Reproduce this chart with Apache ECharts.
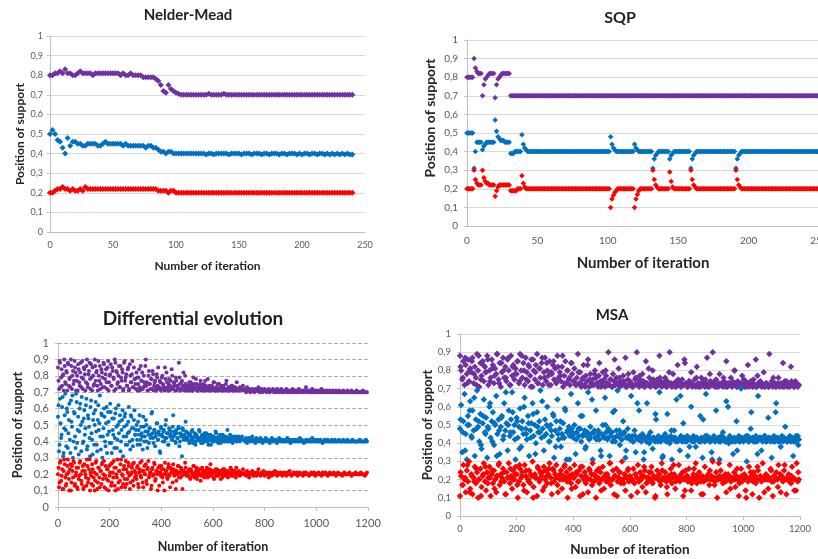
<!DOCTYPE html>
<html><head><meta charset="utf-8">
<script src="https://cdn.jsdelivr.net/npm/echarts@6/dist/echarts.min.js"></script>
<style>html,body{margin:0;padding:0;background:#fff}#c{width:818px;height:559px}</style>
</head><body><div id="c"></div>
<script>
// ---------- tick labels ----------
const yTickLabels = ['0','0,1','0,2','0,3','0,4','0,5','0,6','0,7','0,8','0,9','1'];
const titles = ['Nelder-Mead','SQP','Differential evolution','MSA'];
const xName = 'Number of iteration';
const yName = 'Position of support';

// ---------- Nelder-Mead ----------
const nmIter = [0,2,4,6,8,10,12,14,16,18,20,22,24,26,28,30,32,34,36,38,
40,42,44,46,48,50,52,54,56,58,60,62,64,66,68,70,72,74,76,78,
80,82,84,86,88,90,92,94,96,98,100,102,104,106,108,110,112,114,116,118,
120,122,124,126,128,130,132,134,136,138,140,142,144,146,148,150,152,154,156,158,
160,162,164,166,168,170,172,174,176,178,180,182,184,186,188,190,192,194,196,198,
200,202,204,206,208,210,212,214,216,218,220,222,224,226,228,230,232,234,236,238,
240];
const nmPurple = [.8,.8,.81,.81,.82,.81,.83,.81,.81,.8,
.8,.81,.82,.81,.81,.81,.81,.8,.81,.81,
.81,.81,.81,.81,.81,.81,.81,.81,.8,.81,
.8,.8,.81,.8,.8,.8,.8,.79,.79,.79,
.79,.79,.78,.77,.75,.72,.71,.75,.73,.72,
.71,.705,.7,.7,.7,.7,.7,.7,.7,.7,
.7,.7,.7,.705,.7,.7,.7,.7,.7,.705,
.7,.7,.7,.7,.7,.7,.7,.7,.7,.7,
.7,.7,.7,.7,.7,.7,.7,.7,.7,.7,
.7,.7,.7,.7,.7,.7,.7,.7,.7,.7,
.7,.7,.7,.7,.7,.7,.7,.7,.7,.7,
.7,.7,.7,.7,.7,.7,.7,.7,.7,.7,
.7];
const nmBlue = [.5,.52,.5,.47,.46,.43,.4,.48,.44,.46,
.46,.45,.45,.44,.44,.45,.45,.45,.45,.44,
.44,.45,.46,.45,.45,.45,.45,.45,.45,.44,
.45,.44,.44,.44,.44,.44,.44,.44,.43,.44,
.44,.43,.43,.42,.41,.41,.4,.41,.41,.4,
.4,.4,.4,.4,.4,.4,.4,.4,.4,.4,
.4,.4,.395,.4,.4,.395,.4,.4,.4,.4,
.4,.395,.4,.4,.4,.4,.395,.4,.4,.4,
.395,.4,.4,.4,.395,.4,.4,.395,.4,.4,
.4,.395,.4,.4,.395,.4,.4,.4,.395,.4,
.395,.4,.4,.395,.4,.4,.395,.4,.4,.395,
.4,.395,.4,.395,.4,.395,.4,.395,.4,.395,
.395];
const nmRed = [.2,.2,.21,.22,.22,.23,.22,.22,.21,.22,
.21,.21,.22,.21,.23,.22,.22,.22,.22,.22,
.22,.22,.22,.22,.22,.22,.22,.22,.22,.22,
.22,.22,.22,.22,.22,.22,.22,.22,.22,.22,
.22,.22,.22,.21,.21,.21,.21,.2,.21,.21,
.2,.2,.2,.2,.2,.2,.2,.2,.2,.2,
.2,.2,.2,.2,.2,.2,.2,.2,.2,.2,
.2,.2,.2,.2,.2,.2,.2,.2,.2,.2,
.2,.2,.2,.2,.2,.2,.2,.2,.2,.2,
.2,.2,.2,.2,.2,.2,.2,.2,.2,.2,
.2,.2,.2,.2,.2,.2,.2,.2,.2,.2,
.2,.2,.2,.2,.2,.2,.2,.2,.2,.2,
.2];

// ---------- SQP ----------
const sqpIter = [0,1,2,3,4,5,6,7,8,9,10,11,12,13,14,15,16,17,18,19,20,21,22,23,24,
25,26,27,28,29,30,31,32,33,34,35,36,37,38,39,40,41,42,43,44,45,46,47,48,49,
50,51,52,53,54,55,56,57,58,59,60,61,62,63,64,65,66,67,68,69,70,71,72,73,74,
75,76,77,78,79,80,81,82,83,84,85,86,87,88,89,90,91,92,93,94,95,96,97,98,99,
100,101,102,103,104,105,106,107,108,109,110,111,112,113,114,115,116,117,118,119,120,121,122,123,124,
125,126,127,128,129,130,131,132,133,134,135,136,137,138,139,140,141,142,143,144,145,146,147,148,149,
150,151,152,153,154,155,156,157,158,159,160,161,162,163,164,165,166,167,168,169,170,171,172,173,174,
175,176,177,178,179,180,181,182,183,184,185,186,187,188,189,190,191,192,193,194,195,196,197,198,199,
200,201,202,203,204,205,206,207,208,209,210,211,212,213,214,215,216,217,218,219,220,221,222,223,224,
225,226,227,228,229,230,231,232,233,234,235,236,237,238,239,240,241,242,243,244,245,246,247,248,249,
250];
const sqpPurple = [.8,.8,.8,.8,.8,.9,.85,.83,.82,.82,.82,.7,.76,.79,.8,.81,.82,.82,.82,.82,.69,.76,.79,.8,.81,.82,.82,.82,.82,.82,.82,
.7,.7,.7,.7,.7,.7,.7,.7,.7,.7, .7,.7,.7,.7,.7,.7,.7,.7,.7,.7,
.7,.7,.7,.7,.7,.7,.7,.7,.7,.7, .7,.7,.7,.7,.7,.7,.7,.7,.7,.7,
.7,.7,.7,.7,.7,.7,.7,.7,.7,.7, .7,.7,.7,.7,.7,.7,.7,.7,.7,.7,
.7,.7,.7,.7,.7,.7,.7,.7,.7,.7, .7,.7,.7,.7,.7,.7,.7,.7,.7,.7,
.7,.7,.7,.7,.7,.7,.7,.7,.7,.7, .7,.7,.7,.7,.7,.7,.7,.7,.7,.7,
.7,.7,.7,.7,.7,.7,.7,.7,.7,.7, .7,.7,.7,.7,.7,.7,.7,.7,.7,.7,
.7,.7,.7,.7,.7,.7,.7,.7,.7,.7, .7,.7,.7,.7,.7,.7,.7,.7,.7,.7,
.7,.7,.7,.7,.7,.7,.7,.7,.7,.7, .7,.7,.7,.7,.7,.7,.7,.7,.7,.7,
.7,.7,.7,.7,.7,.7,.7,.7,.7,.7, .7,.7,.7,.7,.7,.7,.7,.7,.7,.7,
.7,.7,.7,.7,.7,.7,.7,.7,.7,.7, .7,.7,.7,.7,.7,.7,.7,.7,.7,.7,
.7,.7,.7,.7,.7,.7,.7,.7,.7,.7, .7,.7,.7,.7,.7,.7,.7,.7,.7,.7];
const sqpBlue = [.5,.5,.5,.5,.5,.31,.4,.45,.45,.45,.45,.41,.43,.44,.45,.45,.45,.45,.45,.45,
.57,.51,.48,.47,.46,.46,.46,.45,.45,.45,.45,
.39,.39,.39,.4,.4,.4,.4,.4,.49,.44,.42,.41,
.4,.4,.4,.4,.4,.4,.4,.4,.4,.4, .4,.4,.4,.4,.4,.4,.4,.4,.4,.4,
.4,.4,.4,.4,.4,.4,.4,.4,.4,.4, .4,.4,.4,.4,.4,.4,.4,.4,.4,.4,
.4,.4,.4,.4,.4,.4,.4,.4,.4,.4, .4,.4,.4,.4,.4,.4,.4,.4,.4,
.48,.44,.42,.41,
.4,.4,.4,.4,.4,.4,.4,.4,.4,.4,.4,.4,.4,
.44,.42,.41,
.4,.4,.4,.4,.4,.4,.4,.4,.4,.4,
.31,.36,.38,.39,
.4,.4,.4,.4,.4,.4,.4,.4,
.36,.38,.39,
.4,.4,.4,.4,.4,.4,.4,.4,.4,.4,.4,.4,
.31,.36,.38,.39,
.4,.4,.4,.4,.4,.4,.4,.4,.4,.4, .4,.4,.4,.4,.4,.4,.4,.4,.4,.4, .4,.4,.4,.4,.4,.4,.4,.4,
.31,.36,.38,.39,
.4,.4,.4,.4,.4,.4,.4,.4,.4,.4, .4,.4,.4,.4,.4,.4,.4,.4,.4,.4, .4,.4,.4,.4,.4,.4,.4,.4,.4,.4,
.4,.4,.4,.4,.4,.4,.4,.4,.4,.4, .4,.4,.4,.4,.4,.4,.4,.4,.4,.4, .4,.4,.4,.4,.4,.4];
const sqpRed = [.2,.2,.2,.2,.2,.3,.25,.23,.22,.22,.22,.3,.26,.24,.23,.23,.22,.22,.22,.22,
.16,.19,.21,.22,.22,.22,.22,.22,.22,.22,.22,
.19,.19,.19,.19,.19,.2,.2,.2,.27,.23,.21,
.2,.2,.2,.2,.2,.2,.2,.2,.2,.2, .2,.2,.2,.2,.2,.2,.2,.2,.2,.2, .2,.2,.2,.2,.2,.2,.2,.2,.2,.2,
.2,.2,.2,.2,.2,.2,.2,.2,.2,.2, .2,.2,.2,.2,.2,.2,.2,.2,.2,.2, .2,.2,.2,.2,.2,.2,.2,.2,.2,.2,
.1,.145,.165,.18,.19,
.2,.2,.2,.2,.2,.2,.2,.2,.2,.2,.2,.2,
.1,.145,.17,.19,
.2,.2,.2,.2,.2,.2,.2,.2,.2,
.3,.25,.22,.21,
.2,.2,.2,.2,.2,.2,.2,.2,
.29,.24,.21,
.2,.2,.2,.2,.2,.2,.2,.2,.2,.2,.2,.2,
.3,.25,.22,.21,
.2,.2,.2,.2,.2,.2,.2,.2,.2,.2, .2,.2,.2,.2,.2,.2,.2,.2,.2,.2, .2,.2,.2,.2,.2,.2,.2,.2,
.3,.25,.22,.21,
.2,.2,.2,.2,.2,.2,.2,.2,.2,.2, .2,.2,.2,.2,.2,.2,.2,.2,.2,.2, .2,.2,.2,.2,.2,.2,.2,.2,.2,.2,
.2,.2,.2,.2,.2,.2,.2,.2,.2,.2, .2,.2,.2,.2,.2,.2,.2,.2,.2,.2, .2,.2,.2,.2,.2,.2];

// ---------- iterations for DE and MSA ----------
const longIter = [0,4,8,12,16,20,24,28,32,36,40,44,48,52,56,60,64,68,72,76,
80,84,88,92,96,100,104,108,112,116,120,124,128,132,136,140,144,148,152,156,
160,164,168,172,176,180,184,188,192,196,200,204,208,212,216,220,224,228,232,236,
240,244,248,252,256,260,264,268,272,276,280,284,288,292,296,300,304,308,312,316,
320,324,328,332,336,340,344,348,352,356,360,364,368,372,376,380,384,388,392,396,
400,404,408,412,416,420,424,428,432,436,440,444,448,452,456,460,464,468,472,476,
480,484,488,492,496,500,504,508,512,516,520,524,528,532,536,540,544,548,552,556,
560,564,568,572,576,580,584,588,592,596,600,604,608,612,616,620,624,628,632,636,
640,644,648,652,656,660,664,668,672,676,680,684,688,692,696,700,704,708,712,716,
720,724,728,732,736,740,744,748,752,756,760,764,768,772,776,780,784,788,792,796,
800,804,808,812,816,820,824,828,832,836,840,844,848,852,856,860,864,868,872,876,
880,884,888,892,896,900,904,908,912,916,920,924,928,932,936,940,944,948,952,956,
960,964,968,972,976,980,984,988,992,996,1000,1004,1008,1012,1016,1020,1024,1028,1032,1036,
1040,1044,1048,1052,1056,1060,1064,1068,1072,1076,1080,1084,1088,1092,1096,1100,1104,1108,1112,1116,
1120,1124,1128,1132,1136,1140,1144,1148,1152,1156,1160,1164,1168,1172,1176,1180,1184,1188,1192,1196];
// extra DE population members for the early, widely spread generations
const deIter2 = [2,6,10,14,18,22,26,30,34,38,42,46,50,54,58,62,66,70,74,78,82,86,90,94,98,
102,106,110,114,118,122,126,130,134,138,142,146,150,154,158,162,166,170,174,178,182,186,190,194,198,
202,206,210,214,218,222,226,230,234,238,242,246,250,254,258,262,266,270,274,278,282,286,290,294,298,
302,306,310,314,318,322,326,330,334,338,342,346,350,354,358,362,366,370,374,378,382,386,390,394,398,
402,406,410,414,418,422,426,430,434,438,442,446,450,454,458,462,466,470,474,478,482,486,490,494,498,
502,506,510,514,518,522,526,530,534,538,542,546,550,554,558,562,566,570,574,578,582,586,590,594,598,
602,606,610,614,618,622,626,630,634,638,642,646,650,654,658,662,666,670,674,678,682,686,690,694,698];
// extra MSA points
const msaIter2 = [2,10,18,26,34,42,50,58,66,74,82,90,98,106,114,122,130,138,146,154,162,170,178,186,194,
202,210,218,226,234,242,250,258,266,274,282,290,298,306,314,322,330,338,346,354,362,370,378,386,394,
402,410,418,426,434,442,450,458,466,474,482,490,498,506,514,522,530,538,546,554,562,570,578,586,594,
602,610,618,626,634,642,650,658,666,674,682,690,698,706,714,722,730,738,746,754,762,770,778,786,794,
802,810,818,826,834,842,850,858,866,874,882,890,898,906,914,922,930,938,946,954,962,970,978,986,994,
1002,1010,1018,1026,1034,1042,1050,1058,1066,1074,1082,1090,1098,1106,1114,1122,1130,1138,1146,1154,1162,1170,1178,1186,1194];

// ---------- Differential evolution ----------
const dePurple = [.85,.72,.88,.79,.74,.81,.9,.76,.83,.71,
.87,.78,.73,.86,.8,.75,.89,.82,.77,.71,
.84,.74,.88,.79,.72,.85,.81,.76,.9,.73,
.83,.78,.87,.71,.8,.75,.86,.82,.74,.89,
.77,.72,.84,.79,.88,.73,.81,.76,.85,.71,
.8,.87,.74,.83,.78,.9,.72,.82,.76,.86,
.73,.79,.84,.71,.88,.77,.81,.74,.85,.72,
.8,.76,.89,.73,.78,
.75,.82,.71,.79,.73,.86,.77,.72,.8,.74,
.9,.76,.71,.83,.75,.78,.72,.81,.74,.77,
.71,.79,.85,.73,.76,.72,.8,.74,.71,.78,
.82,.73,.75,.71,.77,.84,.72,.76,.74,.79,
.71,.73,.88,.75,.72,.77,.74,.71,.8,.73,
.73,.71,.76,.72,.74,.71,.79,.73,.72,.75,
.71,.74,.72,.77,.73,.71,.75,.72,.74,.71,
.78,.73,.72,.71,.74,.72,.76,.71,.73,.72,
.71,.75,.72,.73,.71,.74,.72,.71,.77,.72,
.73,.71,.72,.74,.71,.73,.72,.71,.76,.72,
.71,.73,.72,.71,.74,
.72,.71,.7,.73,.71,.72,.7,.71,.72,.71,
.7,.72,.71,.71,.73,.7,.71,.72,.7,.71,
.72,.71,.7,.71,.72,.7,.71,.71,.72,.7,
.71,.7,.72,.71,.7,.71,.72,.7,.71,.7,
.71,.72,.7,.71,.7,.71,.7,.72,.71,.7,
.71,.7,.71,.72,.7,.71,.7,.71,.7,.71,
.73,.7,.71,.7,.71,.7,.72,.7,.71,.7,
.71,.7,.7,.71,.7,.72,.7,.71,.7,.7,
.71,.7,.7,.71,.7,.7,.71,.7,.7,.71,
.7,.7,.71,.7,.7,.7,.71,.7,.7,.7,
.71,.7,.7,.7,.71,.7,.7,.7,.7,.71,
.7,.7,.7,.7,.7,.71,.7,.7,.7,.7];
const deBlue = [.55,.34,.66,.42,.61,.31,.48,.69,.37,.58,
.45,.63,.33,.52,.68,.4,.57,.36,.64,.47,
.32,.6,.5,.67,.39,.54,.44,.62,.35,.56,
.49,.31,.65,.41,.53,.38,.59,.46,.34,.62,
.51,.43,.57,.3,.48,.55,.37,.61,.44,.52,
.39,.58,.33,.47,.54,.42,.6,.36,.5,.45,
.56,.4,.53,.31,.49,.57,.43,.38,.52,.46,
.35,.55,.41,.48,.59,
.44,.5,.38,.47,.56,.41,.45,.35,.49,.43,
.53,.4,.46,.39,.48,.44,.58,.42,.47,.37,
.45,.51,.41,.44,.33,.48,.43,.46,.4,.5,
.42,.45,.38,.47,.44,.41,.49,.43,.46,.39,
.45,.42,.48,.4,.44,.31,.47,.43,.41,.46,
.42,.45,.39,.44,.41,.47,.4,.43,.38,.44,
.42,.41,.46,.4,.43,.39,.42,.45,.41,.43,
.4,.44,.42,.38,.41,.43,.4,.42,.45,.41,
.39,.42,.44,.4,.41,.43,.42,.4,.41,.47,
.42,.4,.43,.41,.39,.42,.41,.43,.4,.42,
.41,.4,.42,.43,.41,
.41,.4,.42,.39,.41,.42,.4,.41,.43,.4,
.41,.39,.42,.4,.41,.4,.42,.41,.39,.4,
.41,.42,.4,.41,.4,.39,.41,.42,.4,.41,
.4,.41,.39,.4,.42,.41,.4,.41,.4,.4,
.41,.4,.42,.4,.41,.39,.4,.41,.4,.41,
.4,.41,.4,.4,.42,.4,.41,.4,.39,.4,
.41,.4,.4,.41,.4,.4,.42,.4,.41,.4,
.4,.41,.4,.4,.41,.4,.39,.4,.41,.4,
.4,.41,.4,.4,.4,.41,.4,.4,.41,.4,
.4,.4,.41,.4,.4,.4,.41,.4,.4,.4,
.41,.4,.4,.4,.4,.41,.4,.4,.4,.4,
.4,.4,.41,.4,.4,.4,.4,.4,.41,.4];
const deRed = [.2,.12,.27,.16,.23,.11,.29,.18,.14,.25,
.21,.1,.26,.15,.22,.28,.13,.19,.24,.11,
.17,.27,.2,.14,.25,.12,.22,.18,.29,.15,
.23,.1,.19,.26,.13,.21,.16,.28,.11,.24,
.18,.22,.14,.27,.2,.12,.25,.17,.23,.1,
.19,.26,.15,.21,.28,.13,.24,.18,.11,.22,
.16,.29,.2,.14,.25,.12,.23,.17,.27,.19,
.15,.21,.26,.13,.22,
.21,.17,.25,.12,.23,.19,.28,.15,.22,.2,
.26,.14,.24,.18,.21,.11,.23,.19,.27,.16,
.22,.2,.24,.13,.21,.25,.18,.23,.1,.2,
.22,.17,.26,.19,.24,.21,.15,.23,.2,.11,
.22,.25,.18,.21,.24,.19,.22,.2,.27,.21,
.21,.19,.23,.17,.22,.2,.25,.18,.21,.24,
.19,.22,.2,.16,.23,.21,.19,.22,.2,.24,
.18,.21,.23,.19,.2,.22,.17,.21,.2,.23,
.19,.21,.22,.2,.18,.21,.23,.2,.19,.22,
.21,.2,.24,.19,.21,.2,.22,.18,.21,.2,
.22,.19,.21,.2,.23,
.2,.21,.19,.22,.2,.18,.21,.2,.22,.19,
.21,.2,.19,.21,.23,.2,.19,.21,.2,.22,
.19,.2,.21,.2,.18,.21,.2,.19,.21,.2,
.22,.2,.19,.21,.2,.2,.21,.19,.2,.21,
.2,.19,.21,.2,.22,.2,.19,.2,.21,.2,
.2,.21,.19,.2,.21,.2,.2,.19,.21,.2,
.21,.2,.2,.19,.2,.21,.2,.2,.21,.19,
.2,.2,.21,.2,.2,.19,.21,.2,.2,.21,
.2,.19,.2,.21,.2,.2,.2,.21,.2,.19,
.2,.21,.2,.2,.2,.19,.2,.21,.2,.2,
.2,.2,.21,.2,.19,.2,.2,.2,.21,.2,
.2,.2,.2,.21,.2,.2,.2,.19,.2,.21];
const dePurple2 = [.77,.89,.73,.84,.8,.71,.86,.75,.82,.88,
.74,.79,.9,.72,.83,.77,.85,.71,.8,.87,
.76,.82,.73,.89,.78,.84,.71,.86,.75,.81,
.88,.72,.79,.85,.74,.9,.77,.83,.71,.8,
.86,.75,.82,.73,.87,.78,.84,.72,.89,.76,
.81,.74,.85,.79,.71,.88,.83,.75,.8,.73,
.86,.77,.82,.72,.89,.79,.74,.84,.71,.87,
.76,.81,.73,.85,.78,
.72,.79,.75,.84,.71,.77,.82,.73,.76,.86,
.74,.71,.8,.75,.72,.78,.83,.71,.76,.73,
.81,.74,.72,.77,.71,.79,.75,.73,.85,.72,
.76,.71,.78,.74,.72,.8,.73,.75,.71,.77,
.74,.72,.79,.71,.76,.73,.82,.72,.75,.71,
.72,.74,.71,.76,.73,.71,.75,.72,.78,.71,
.73,.72,.75,.71,.74,.72,.71,.77,.73,.72,
.71,.74,.72,.73,.71,.76,.72,.71,.73,.75,
.71,.72,.74,.71,.73,.72,.71,.75,.72,.71,
.73,.71,.72,.74,.71,.72,.73,.71,.72,.71];
const deBlue2 = [.62,.38,.51,.44,.67,.33,.56,.47,.6,.36,
.53,.41,.65,.49,.3,.58,.43,.69,.39,.55,
.46,.63,.34,.52,.4,.59,.48,.66,.37,.54,
.42,.61,.45,.32,.57,.5,.64,.38,.53,.47,
.68,.35,.56,.43,.6,.4,.51,.33,.58,.46,
.63,.39,.54,.44,.36,.57,.49,.41,.62,.52,
.34,.47,.59,.43,.55,.38,.5,.45,.61,.4,
.56,.48,.37,.53,.44,
.47,.41,.52,.44,.38,.49,.43,.55,.4,.46,
.5,.36,.44,.48,.42,.57,.45,.39,.47,.43,
.51,.41,.46,.34,.49,.44,.4,.47,.42,.53,
.45,.38,.48,.43,.46,.41,.56,.44,.4,.47,
.42,.49,.37,.45,.43,.48,.41,.44,.52,.42,
.41,.44,.4,.43,.46,.39,.42,.45,.4,.43,
.41,.47,.42,.39,.44,.41,.43,.4,.45,.42,
.38,.41,.44,.42,.4,.43,.41,.46,.42,.4,
.43,.41,.39,.42,.44,.4,.41,.43,.42,.4,
.41,.44,.42,.4,.43,.41,.42,.4,.41,.43];
const deRed2 = [.24,.15,.28,.19,.11,.22,.26,.13,.2,.29,
.17,.23,.1,.25,.18,.27,.14,.21,.12,.24,
.19,.28,.16,.22,.11,.26,.2,.13,.25,.17,
.29,.21,.14,.23,.18,.1,.27,.2,.15,.24,
.12,.22,.26,.17,.28,.19,.11,.23,.16,.25,
.21,.13,.27,.18,.24,.1,.2,.29,.15,.22,
.26,.12,.19,.23,.17,.28,.14,.21,.25,.11,
.2,.24,.16,.27,.18,
.19,.24,.14,.21,.27,.18,.22,.12,.25,.2,
.16,.23,.28,.19,.21,.13,.24,.2,.26,.17,
.22,.1,.21,.25,.19,.23,.15,.2,.27,.22,
.18,.24,.2,.12,.23,.21,.26,.19,.22,.16,
.2,.25,.21,.18,.23,.11,.22,.2,.24,.19,
.2,.22,.18,.23,.21,.19,.25,.2,.22,.17,
.21,.23,.2,.19,.24,.21,.18,.22,.2,.23,
.19,.21,.26,.2,.22,.18,.21,.23,.19,.2,
.22,.21,.17,.2,.23,.19,.21,.22,.2,.18,
.21,.2,.23,.19,.22,.2,.21,.24,.2,.21];

// ---------- MSA ----------
const msaPurple = [.88,.8,.75,.85,.72,.83,.78,.86,.74,.81,
.79,.87,.73,.82,.76,.89,.8,.71,.84,.77,
.85,.74,.82,.79,.88,.72,.8,.76,.86,.83,
.73,.81,.78,.89,.75,.84,.71,.79,.87,.76,
.82,.74,.86,.8,.72,.88,.77,.83,.75,.81,
.78,.85,.73,.89,.8,.76,.84,.72,.87,.79,
.74,.82,.77,.86,.71,.8,.75,.83,.89,.73,
.81,.76,.84,.72,.79,.87,.74,.8,.77,.85,
.72,.78,.83,.75,.81,.73,.88,.76,.79,.74,
.82,.71,.77,.85,.73,.8,.75,.72,.84,.78,
.74,.81,.72,.76,.89,.73,.79,.71,.75,.83,
.72,.77,.74,.86,.71,.78,.73,.75,.72,.8,
.76,.73,.71,.84,.74,.72,.79,.75,.71,.77,
.73,.9,.72,.75,.71,.78,.74,.72,.76,.73,
.81,.71,.74,.72,.77,.73,.87,.71,.75,.72,
.74,.73,.71,.79,.72,.76,.9,.73,.71,.75,
.72,.78,.74,.71,.85,.73,.72,.76,.71,.74,
.8,.72,.73,.71,.75,.72,.88,.74,.71,.73,
.72,.76,.71,.74,.73,.9,.72,.71,.78,.73,
.71,.74,.83,.72,.73,.71,.75,.72,.86,.73,
.72,.71,.74,.73,.79,.71,.72,.75,.71,.82,
.73,.72,.71,.76,.72,.74,.71,.73,.87,.72,
.71,.74,.72,.9,.73,.71,.75,.72,.71,.78,
.72,.73,.71,.74,.72,.85,.71,.73,.72,.76,
.71,.72,.8,.73,.71,.74,.72,.71,.73,.77,
.72,.71,.74,.72,.83,.71,.73,.72,.71,.75,
.72,.86,.71,.73,.72,.74,.71,.72,.79,.71,
.73,.72,.71,.89,.72,.74,.71,.72,.73,.71,
.72,.76,.71,.73,.72,.84,.71,.72,.74,.71,
.72,.71,.82,.73,.72,.71,.74,.72,.71,.72];
const msaBlue = [.48,.61,.35,.52,.67,.45,.31,.55,.5,.63,
.44,.58,.47,.33,.53,.69,.49,.41,.56,.37,
.51,.64,.46,.54,.32,.48,.6,.43,.52,.57,
.39,.5,.66,.45,.53,.34,.49,.55,.42,.62,
.47,.51,.36,.58,.44,.53,.68,.46,.5,.31,
.54,.43,.49,.59,.38,.52,.45,.65,.48,.42,
.55,.33,.47,.51,.62,.44,.5,.4,.57,.46,
.52,.69,.43,.48,.36,.53,.45,.6,.49,.41,
.5,.44,.56,.32,.47,.52,.64,.42,.48,.38,
.45,.51,.43,.58,.31,.47,.49,.44,.67,.46,
.43,.5,.34,.46,.62,.44,.48,.41,.55,.45,
.47,.38,.44,.68,.42,.49,.45,.31,.46,.43,
.58,.44,.47,.42,.36,.45,.5,.43,.65,.46,
.42,.48,.33,.44,.46,.57,.43,.41,.47,.69,
.44,.39,.45,.42,.52,.46,.32,.43,.48,.44,
.42,.66,.44,.41,.47,.35,.43,.42,.58,.44,
.41,.45,.31,.43,.42,.62,.44,.4,.46,.42,
.37,.43,.41,.53,.42,.44,.68,.41,.43,.33,
.42,.45,.41,.56,.43,.4,.44,.31,.42,.47,
.43,.64,.41,.42,.36,.44,.41,.51,.43,.42,
.41,.33,.43,.42,.6,.41,.44,.42,.38,.43,
.42,.41,.55,.43,.32,.42,.41,.67,.44,.42,
.43,.41,.35,.42,.44,.41,.58,.42,.43,.31,
.41,.42,.46,.43,.41,.63,.42,.4,.44,.41,
.42,.34,.43,.41,.52,.42,.44,.41,.7,.42,
.41,.43,.42,.3,.44,.41,.42,.57,.43,.41,
.42,.44,.41,.66,.42,.43,.36,.41,.42,.44,
.41,.42,.54,.43,.41,.32,.42,.44,.41,.62,
.43,.41,.42,.38,.44,.41,.43,.49,.42,.41,
.42,.44,.41,.43,.33,.42,.41,.43,.44,.42];
const msaRed = [.11,.22,.17,.28,.2,.13,.25,.19,.3,.15,
.23,.12,.21,.27,.18,.24,.1,.2,.26,.16,
.22,.29,.19,.14,.24,.21,.27,.11,.23,.18,
.25,.2,.13,.22,.28,.17,.23,.21,.26,.19,
.12,.24,.21,.29,.18,.22,.15,.25,.2,.27,
.23,.1,.19,.26,.21,.24,.17,.28,.22,.13,
.2,.25,.18,.22,.3,.16,.23,.21,.11,.26,
.19,.24,.22,.14,.27,.2,.25,.18,.23,.29,
.21,.12,.26,.19,.23,.28,.17,.22,.2,.25,
.15,.22,.27,.21,.24,.1,.2,.26,.18,.23,
.21,.28,.16,.23,.19,.25,.11,.22,.27,.2,
.24,.18,.21,.13,.26,.2,.23,.29,.19,.22,
.1,.25,.21,.18,.24,.2,.27,.15,.22,.19,
.23,.21,.29,.17,.2,.25,.12,.22,.26,.19,
.21,.24,.18,.3,.2,.23,.14,.21,.25,.19,
.22,.11,.2,.26,.18,.23,.21,.28,.19,.24,
.2,.16,.22,.25,.13,.21,.19,.24,.2,.27,
.18,.22,.1,.21,.25,.2,.23,.17,.29,.21,
.2,.24,.19,.12,.22,.2,.26,.18,.21,.23,
.15,.21,.2,.28,.19,.23,.21,.11,.2,.25,
.22,.19,.26,.2,.14,.21,.23,.2,.29,.18,
.21,.24,.2,.12,.22,.19,.27,.21,.2,.23,
.17,.2,.22,.3,.21,.19,.24,.1,.2,.22,
.25,.2,.18,.21,.23,.13,.2,.22,.28,.19,
.21,.2,.24,.16,.22,.2,.11,.21,.26,.19,
.2,.23,.14,.21,.19,.27,.2,.22,.12,.24,
.21,.18,.2,.25,.1,.22,.19,.29,.21,.2,
.23,.2,.15,.21,.26,.19,.11,.22,.2,.24,
.2,.28,.21,.13,.22,.19,.25,.2,.12,.21,
.23,.2,.18,.27,.21,.14,.2,.29,.19,.2];
const msaPurple2 = [.82,.76,.87,.73,.8,.85,.78,.72,.88,.75,
.83,.79,.86,.74,.81,.77,.89,.73,.84,.8,
.76,.87,.72,.82,.78,.85,.74,.88,.8,.75,
.83,.71,.86,.79,.73,.81,.87,.76,.84,.72,
.79,.85,.74,.82,.77,.88,.73,.8,.76,.84,
.74,.72,.79,.73,.76,.71,.83,.75,.72,.78,
.73,.77,.71,.74,.8,.72,.75,.71,.86,.73,
.76,.72,.74,.71,.78,
.73,.71,.75,.72,.77,.74,.71,.73,.81,.72,
.75,.71,.73,.76,.72,.74,.71,.79,.73,.72,
.71,.75,.73,.72,.84,.71,.74,.73,.72,.76,
.71,.73,.72,.75,.71,.78,.72,.74,.71,.73,
.72,.76,.71,.73,.72,.74,.8,.71,.73,.72,
.75,.71,.72,.74,.73,.71,.77,.72,.73,.71,
.73,.71,.72,.76,.71,.73,.72,.71,.74,.72,
.72,.74,.71,.73,.72];
const msaBlue2 = [.53,.46,.36,.5,.58,.43,.65,.48,.52,.39,
.55,.45,.49,.62,.41,.51,.33,.47,.54,.44,
.68,.5,.46,.57,.42,.52,.37,.48,.6,.45,
.51,.43,.56,.34,.49,.46,.63,.44,.5,.41,
.47,.55,.38,.45,.52,.43,.59,.46,.31,.48,
.45,.42,.48,.55,.44,.37,.46,.43,.64,.47,
.42,.45,.33,.44,.5,.43,.46,.41,.58,.44,
.47,.42,.45,.36,.43,
.42,.41,.44,.62,.42,.43,.35,.41,.44,.42,
.43,.56,.41,.42,.32,.44,.42,.41,.47,.43,
.41,.42,.66,.43,.41,.44,.38,.42,.41,.43,
.42,.41,.53,.44,.42,.41,.31,.43,.42,.41,
.44,.42,.41,.6,.43,.41,.42,.36,.41,.43,
.42,.44,.41,.48,.42,.41,.34,.43,.42,.44,
.41,.43,.42,.41,.57,.42,.41,.43,.42,.41,
.43,.42,.41,.44,.39];
const msaRed2 = [.24,.17,.21,.28,.13,.22,.19,.26,.2,.11,
.23,.27,.18,.21,.25,.15,.22,.29,.19,.24,
.12,.21,.26,.2,.23,.17,.28,.22,.14,.25,
.19,.23,.1,.21,.27,.2,.24,.16,.22,.26,
.18,.25,.21,.13,.23,.2,.28,.19,.22,.15,
.21,.24,.19,.27,.12,.22,.2,.25,.17,.23,
.2,.26,.14,.21,.23,.19,.29,.2,.22,.11,
.24,.2,.18,.22,.26,
.21,.19,.23,.13,.2,.22,.27,.18,.21,.24,
.2,.11,.22,.19,.25,.21,.16,.2,.23,.28,
.19,.21,.2,.24,.14,.22,.2,.18,.26,.21,
.23,.19,.12,.2,.22,.25,.2,.17,.21,.29,
.2,.22,.19,.23,.15,.21,.2,.26,.18,.22,
.21,.1,.2,.24,.19,.22,.27,.2,.21,.13,
.22,.2,.25,.19,.21,.16,.23,.2,.28,.21,
.19,.22,.2,.14,.24];

// ---------- styling ----------
const PURPLE = '#7030A0', BLUE = '#0070C0', RED = '#FF0000';
const FONT = 'Lato, "Open Sans", sans-serif';

function pairs(xs, ys) {
  const out = [];
  const n = Math.min(xs.length, ys.length);
  for (let i = 0; i < n; i++) out.push([xs[i], ys[i]]);
  return out;
}

const panels = [
  { grid:{left:50,top:36,width:315,height:196}, xMax:250, xInt:50, lab:9, labMx:9, labMy:7,
    split:'solid', xTick:false, xNameGap:28, xNameSize:12, yNameGap:23, yNameSize:12, yNameShow:true,
    symbol:'diamond', size:6,
    layers:[[nmIter,[nmPurple,nmBlue,nmRed]]],
    title:{x:188,y:15,size:15} },
  { grid:{left:467,top:40,width:352,height:186}, xMax:250, xInt:50, lab:10, labMx:10, labMy:9,
    split:'solid', xTick:false, xNameGap:30, xNameSize:15, yNameGap:0, yNameSize:14, yNameShow:false,
    symbol:'diamond', size:5.5,
    layers:[[sqpIter,[sqpPurple,sqpBlue,sqpRed]]],
    title:{x:620,y:18,size:16} },
  { grid:{left:58,top:343,width:310,height:164}, xMax:1200, xInt:200, lab:11, labMx:11, labMy:9,
    split:'dashed', xTick:true, xNameGap:33, xNameSize:12.5, yNameGap:34, yNameSize:12.5, yNameShow:true,
    symbol:'circle', size:4,
    layers:[[longIter,[dePurple,deBlue,deRed]],[deIter2,[dePurple2,deBlue2,deRed2]]],
    title:{x:193,y:319,size:19} },
  { grid:{left:460,top:334,width:340,height:182}, xMax:1200, xInt:200, lab:9.5, labMx:8, labMy:9,
    split:'solid', xTick:true, xNameGap:27, xNameSize:13.5, yNameGap:25, yNameSize:13, yNameShow:true,
    symbol:'diamond', size:6.5,
    layers:[[longIter,[msaPurple,msaBlue,msaRed]],[msaIter2,[msaPurple2,msaBlue2,msaRed2]]],
    title:{x:612,y:315,size:15} }
];

const grid = [], xAxis = [], yAxis = [], series = [], graphic = [];
const colors = [PURPLE, BLUE, RED];
panels.forEach((p, k) => {
  grid.push(Object.assign({containLabel:false, outerBoundsMode:'none'}, p.grid));
  xAxis.push({
    type:'value', gridIndex:k, min:0, max:p.xMax, interval:p.xInt,
    name:xName, nameLocation:'middle', nameGap:p.xNameGap,
    nameTextStyle:{fontFamily:FONT, fontWeight:'bold', fontSize:p.xNameSize, color:'#262626'},
    axisLine:{show:true, lineStyle:{color:'#bfbfbf', width:1}},
    axisTick:{show:p.xTick, length:4, inside:false, lineStyle:{color:'#bfbfbf'}},
    axisLabel:{fontFamily:FONT, fontSize:p.lab, color:'#595959', margin:p.labMx, showMaxLabel:true,
      formatter:(v) => String(v)},
    splitLine:{show:false}
  });
  yAxis.push({
    type:'value', gridIndex:k, min:0, max:1, interval:0.1,
    name:p.yNameShow ? yName : '', nameLocation:'middle', nameGap:p.yNameGap,
    nameTextStyle:{fontFamily:FONT, fontWeight:'bold', fontSize:p.yNameSize, color:'#262626'},
    axisLine:{show:true, lineStyle:{color:'#bfbfbf', width:1}},
    axisTick:{show:true, length:3, lineStyle:{color:'#bfbfbf'}},
    axisLabel:{fontFamily:FONT, fontSize:p.lab, color:'#595959', margin:p.labMy,
      formatter:(v) => yTickLabels[Math.round(v * 10)]},
    splitLine:{show:true, lineStyle:{color: p.split === 'dashed' ? '#b0b0b0' : '#d9d9d9', type:p.split, width:1}}
  });
  // draw purple layers first, then blue, then red on top
  [0,1,2].forEach(j => {
    p.layers.forEach(([xs, set]) => {
      series.push({
        type:'scatter', xAxisIndex:k, yAxisIndex:k, symbol:p.symbol, symbolSize:p.size,
        itemStyle:{color:colors[j], opacity:1}, data:pairs(xs, set[j]), silent:true, animation:false
      });
    });
  });
  graphic.push({
    type:'text', x:p.title.x, y:p.title.y,
    style:{text:titles[k], fill:'#1f1f1f', fontFamily:FONT, fontWeight:'bold', fontSize:p.title.size,
      font:'bold ' + p.title.size + 'px ' + FONT,
      textAlign:'center', textVerticalAlign:'middle', align:'center', verticalAlign:'middle'}
  });
});
// SQP vertical axis title (sits above the plot centre in the reference)
graphic.push({
  type:'text', x:430, y:118, rotation:Math.PI / 2,
  style:{text:yName, fill:'#262626', fontFamily:FONT, fontWeight:'bold', fontSize:14,
    font:'bold 14px ' + FONT,
    textAlign:'center', textVerticalAlign:'middle', align:'center', verticalAlign:'middle'}
});

const chart = echarts.init(document.getElementById('c'), null, {renderer:'canvas'});
chart.setOption({animation:false, backgroundColor:'#ffffff', grid, xAxis, yAxis, series, graphic});
</script>
</body></html>
